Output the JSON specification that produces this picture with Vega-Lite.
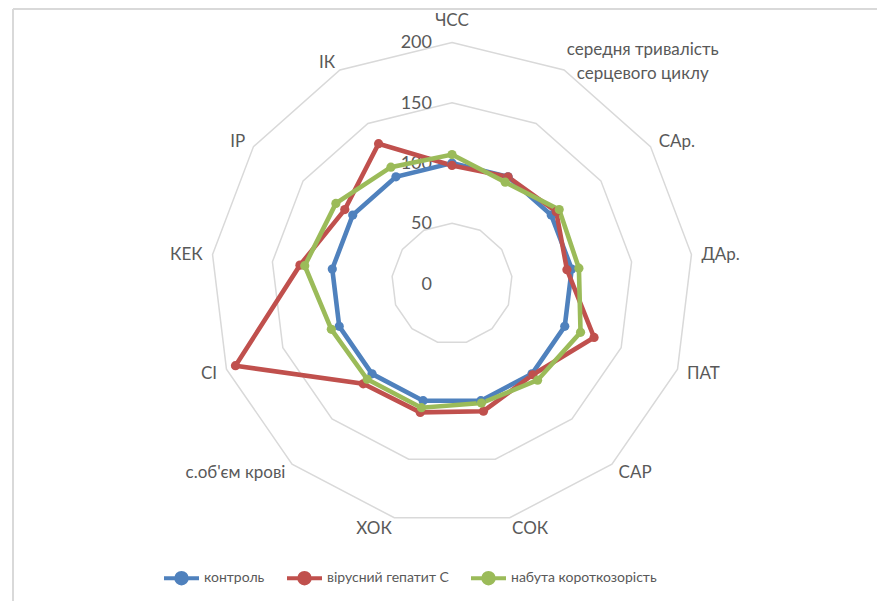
{
  "$schema": "https://vega.github.io/schema/vega-lite/v6.json",
  "width": 864,
  "height": 592,
  "autosize": {"type": "none"},
  "padding": {"left": 13, "top": 9, "right": 0, "bottom": 0},
  "background": "white",
  "view": {"stroke": null},
  "config": {"font": "Lato"},
  "datasets": {
    "series": [
      {"s": "контроль", "k": 0, "v": 100},
      {"s": "контроль", "k": 1, "v": 100},
      {"s": "контроль", "k": 2, "v": 100},
      {"s": "контроль", "k": 3, "v": 100},
      {"s": "контроль", "k": 4, "v": 100},
      {"s": "контроль", "k": 5, "v": 100},
      {"s": "контроль", "k": 6, "v": 100},
      {"s": "контроль", "k": 7, "v": 100},
      {"s": "контроль", "k": 8, "v": 100},
      {"s": "контроль", "k": 9, "v": 100},
      {"s": "контроль", "k": 10, "v": 100},
      {"s": "контроль", "k": 11, "v": 100},
      {"s": "контроль", "k": 12, "v": 100},
      {"s": "вірусний гепатит С", "k": 0, "v": 98},
      {"s": "вірусний гепатит С", "k": 1, "v": 100},
      {"s": "вірусний гепатит С", "k": 2, "v": 105},
      {"s": "вірусний гепатит С", "k": 3, "v": 96},
      {"s": "вірусний гепатит С", "k": 4, "v": 126},
      {"s": "вірусний гепатит С", "k": 5, "v": 101},
      {"s": "вірусний гепатит С", "k": 6, "v": 109},
      {"s": "вірусний гепатит С", "k": 7, "v": 110},
      {"s": "вірусний гепатит С", "k": 8, "v": 111},
      {"s": "вірусний гепатит С", "k": 9, "v": 192},
      {"s": "вірусний гепатит С", "k": 10, "v": 127},
      {"s": "вірусний гепатит С", "k": 11, "v": 108},
      {"s": "вірусний гепатит С", "k": 12, "v": 131},
      {"s": "набута короткозорість", "k": 0, "v": 107},
      {"s": "набута короткозорість", "k": 1, "v": 95},
      {"s": "набута короткозорість", "k": 2, "v": 108},
      {"s": "набута короткозорість", "k": 3, "v": 106},
      {"s": "набута короткозорість", "k": 4, "v": 114},
      {"s": "набута короткозорість", "k": 5, "v": 107},
      {"s": "набута короткозорість", "k": 6, "v": 102},
      {"s": "набута короткозорість", "k": 7, "v": 106},
      {"s": "набута короткозорість", "k": 8, "v": 106},
      {"s": "набута короткозорість", "k": 9, "v": 107},
      {"s": "набута короткозорість", "k": 10, "v": 123},
      {"s": "набута короткозорість", "k": 11, "v": 117},
      {"s": "набута короткозорість", "k": 12, "v": 109}
    ],
    "grid": [
      {"level": 50, "k": [0, 1, 2, 3, 4, 5, 6, 7, 8, 9, 10, 11, 12]},
      {"level": 100, "k": [0, 1, 2, 3, 4, 5, 6, 7, 8, 9, 10, 11, 12]},
      {"level": 150, "k": [0, 1, 2, 3, 4, 5, 6, 7, 8, 9, 10, 11, 12]},
      {"level": 200, "k": [0, 1, 2, 3, 4, 5, 6, 7, 8, 9, 10, 11, 12]}
    ],
    "ticks": [{"t": 0}, {"t": 50}, {"t": 100}, {"t": 150}, {"t": 200}],
    "cats": [
      {"k": 0, "c": "ЧСС"},
      {"k": 1, "c": "середня тривалість\nсерцевого циклу"},
      {"k": 2, "c": "САр."},
      {"k": 3, "c": "ДАр."},
      {"k": 4, "c": "ПАТ"},
      {"k": 5, "c": "САР"},
      {"k": 6, "c": "СОК"},
      {"k": 7, "c": "ХОК"},
      {"k": 8, "c": "с.об'єм крові"},
      {"k": 9, "c": "СІ"},
      {"k": 10, "c": "КЕК"},
      {"k": 11, "c": "ІР"},
      {"k": 12, "c": "ІК"}
    ]
  },
  "layer": [
    {
      "data": {"values": [{}]},
      "mark": {"type": "rule", "color": "#D9D9D9", "strokeWidth": 2},
      "encoding": {
        "y": {"datum": 227.7, "type": "quantitative", "scale": {"domain": [-263.2, 227.7], "nice": false, "zero": false}, "axis": null}
      }
    },
    {
      "data": {"values": [{}]},
      "mark": {"type": "rule", "color": "#D9D9D9", "strokeWidth": 2},
      "encoding": {
        "x": {"datum": -364.0, "type": "quantitative", "scale": {"domain": [-364.0, 352.4], "nice": false, "zero": false}, "axis": null}
      }
    },
    {
      "data": {"name": "grid"},
      "transform": [
        {"flatten": ["k"]},
        {"calculate": "datum.k * 2 * PI / 13", "as": "th"},
        {"calculate": "datum.level * sin(datum.th)", "as": "x"},
        {"calculate": "datum.level * cos(datum.th)", "as": "y"}
      ],
      "mark": {"type": "line", "interpolate": "linear-closed", "stroke": "#D9D9D9", "strokeWidth": 1.5},
      "encoding": {
        "x": {"field": "x", "type": "quantitative", "scale": {"domain": [-364.0, 352.4], "nice": false, "zero": false}, "axis": null},
        "y": {"field": "y", "type": "quantitative", "scale": {"domain": [-263.2, 227.7], "nice": false, "zero": false}, "axis": null},
        "detail": {"field": "level", "type": "nominal"},
        "order": {"field": "k", "type": "quantitative"}
      }
    },
    {
      "data": {"name": "ticks"},
      "transform": [
        {"calculate": "0", "as": "x"},
        {"calculate": "datum.t", "as": "y"}
      ],
      "mark": {"type": "text", "align": "right", "baseline": "middle", "dx": -20, "dy": 1, "fontSize": 18, "color": "#595959", "font": "Lato"},
      "encoding": {
        "x": {"field": "x", "type": "quantitative", "scale": {"domain": [-364.0, 352.4], "nice": false, "zero": false}, "axis": null},
        "y": {"field": "y", "type": "quantitative", "scale": {"domain": [-263.2, 227.7], "nice": false, "zero": false}, "axis": null},
        "text": {"field": "t", "type": "quantitative"}
      }
    },
    {
      "data": {"name": "series"},
      "transform": [
        {"calculate": "datum.k * 2 * PI / 13", "as": "th"},
        {"calculate": "datum.v * sin(datum.th)", "as": "x"},
        {"calculate": "datum.v * cos(datum.th)", "as": "y"}
      ],
      "mark": {"type": "line", "interpolate": "linear-closed", "strokeWidth": 4.6},
      "encoding": {
        "x": {"field": "x", "type": "quantitative", "scale": {"domain": [-364.0, 352.4], "nice": false, "zero": false}, "axis": null},
        "y": {"field": "y", "type": "quantitative", "scale": {"domain": [-263.2, 227.7], "nice": false, "zero": false}, "axis": null},
        "color": {
          "field": "s", "type": "nominal",
          "scale": {"domain": ["контроль", "вірусний гепатит С", "набута короткозорість"], "range": ["#4F81BD", "#C0504D", "#9BBB59"]},
          "legend": {
            "orient": "none", "legendX": 149, "legendY": 549.5, "direction": "horizontal", "title": null,
            "symbolType": "M-1,0L1,0M-0.3,0A0.3,0.3,0,1,1,0.3,0A0.3,0.3,0,1,1,-0.3,0Z",
            "symbolSize": 1225, "symbolStrokeWidth": 4,
            "labelFont": "Lato", "labelFontSize": 14, "labelColor": "#595959", "labelOffset": 3,
            "columnPadding": 14, "padding": 0, "offset": 0, "labelLimit": 400,
            "encode": {"symbols": {"update": {"fill": {"scale": "color", "field": "value"}, "stroke": {"scale": "color", "field": "value"}, "opacity": {"value": 1}}}}
          }
        },
        "order": {"field": "k", "type": "quantitative"}
      }
    },
    {
      "data": {"name": "series"},
      "transform": [
        {"calculate": "datum.k * 2 * PI / 13", "as": "th"},
        {"calculate": "datum.v * sin(datum.th)", "as": "x"},
        {"calculate": "datum.v * cos(datum.th)", "as": "y"}
      ],
      "mark": {"type": "point", "filled": true, "size": 85, "opacity": 1},
      "encoding": {
        "x": {"field": "x", "type": "quantitative", "scale": {"domain": [-364.0, 352.4], "nice": false, "zero": false}, "axis": null},
        "y": {"field": "y", "type": "quantitative", "scale": {"domain": [-263.2, 227.7], "nice": false, "zero": false}, "axis": null},
        "color": {"field": "s", "type": "nominal", "legend": null}
      }
    },
    {
      "data": {"name": "cats"},
      "transform": [
        {"filter": "datum.k == 0"},
        {"calculate": "0", "as": "x"},
        {"calculate": "208.3", "as": "y"}
      ],
      "mark": {"type": "text", "align": "center", "baseline": "middle", "dy": -11, "fontSize": 17, "color": "#595959", "font": "Lato"},
      "encoding": {
        "x": {"field": "x", "type": "quantitative", "scale": {"domain": [-364.0, 352.4], "nice": false, "zero": false}, "axis": null},
        "y": {"field": "y", "type": "quantitative", "scale": {"domain": [-263.2, 227.7], "nice": false, "zero": false}, "axis": null},
        "text": {"field": "c", "type": "nominal"}
      }
    },
    {
      "data": {"name": "cats"},
      "transform": [
        {"filter": "datum.k == 1"},
        {"calculate": "datum.k * 2 * PI / 13", "as": "th"},
        {"calculate": "208.3 * sin(datum.th)", "as": "x"},
        {"calculate": "208.3 * cos(datum.th)", "as": "y"}
      ],
      "mark": {"type": "text", "align": "center", "baseline": "middle", "dx": 74, "dy": -11.5, "lineBreak": "\n", "lineHeight": 24, "fontSize": 17, "color": "#595959", "font": "Lato"},
      "encoding": {
        "x": {"field": "x", "type": "quantitative", "scale": {"domain": [-364.0, 352.4], "nice": false, "zero": false}, "axis": null},
        "y": {"field": "y", "type": "quantitative", "scale": {"domain": [-263.2, 227.7], "nice": false, "zero": false}, "axis": null},
        "text": {"field": "c", "type": "nominal"}
      }
    },
    {
      "data": {"name": "cats"},
      "transform": [
        {"filter": "datum.k >= 2 && datum.k <= 6"},
        {"calculate": "datum.k * 2 * PI / 13", "as": "th"},
        {"calculate": "208.3 * sin(datum.th)", "as": "x"},
        {"calculate": "208.3 * cos(datum.th)", "as": "y"}
      ],
      "mark": {"type": "text", "align": "left", "baseline": "middle", "dy": 1.5, "fontSize": 17, "color": "#595959", "font": "Lato"},
      "encoding": {
        "x": {"field": "x", "type": "quantitative", "scale": {"domain": [-364.0, 352.4], "nice": false, "zero": false}, "axis": null},
        "y": {"field": "y", "type": "quantitative", "scale": {"domain": [-263.2, 227.7], "nice": false, "zero": false}, "axis": null},
        "text": {"field": "c", "type": "nominal"}
      }
    },
    {
      "data": {"name": "cats"},
      "transform": [
        {"filter": "datum.k >= 7"},
        {"calculate": "datum.k * 2 * PI / 13", "as": "th"},
        {"calculate": "208.3 * sin(datum.th)", "as": "x"},
        {"calculate": "208.3 * cos(datum.th)", "as": "y"}
      ],
      "mark": {"type": "text", "align": "right", "baseline": "middle", "dy": 1.5, "fontSize": 17, "color": "#595959", "font": "Lato"},
      "encoding": {
        "x": {"field": "x", "type": "quantitative", "scale": {"domain": [-364.0, 352.4], "nice": false, "zero": false}, "axis": null},
        "y": {"field": "y", "type": "quantitative", "scale": {"domain": [-263.2, 227.7], "nice": false, "zero": false}, "axis": null},
        "text": {"field": "c", "type": "nominal"}
      }
    }
  ]
}
